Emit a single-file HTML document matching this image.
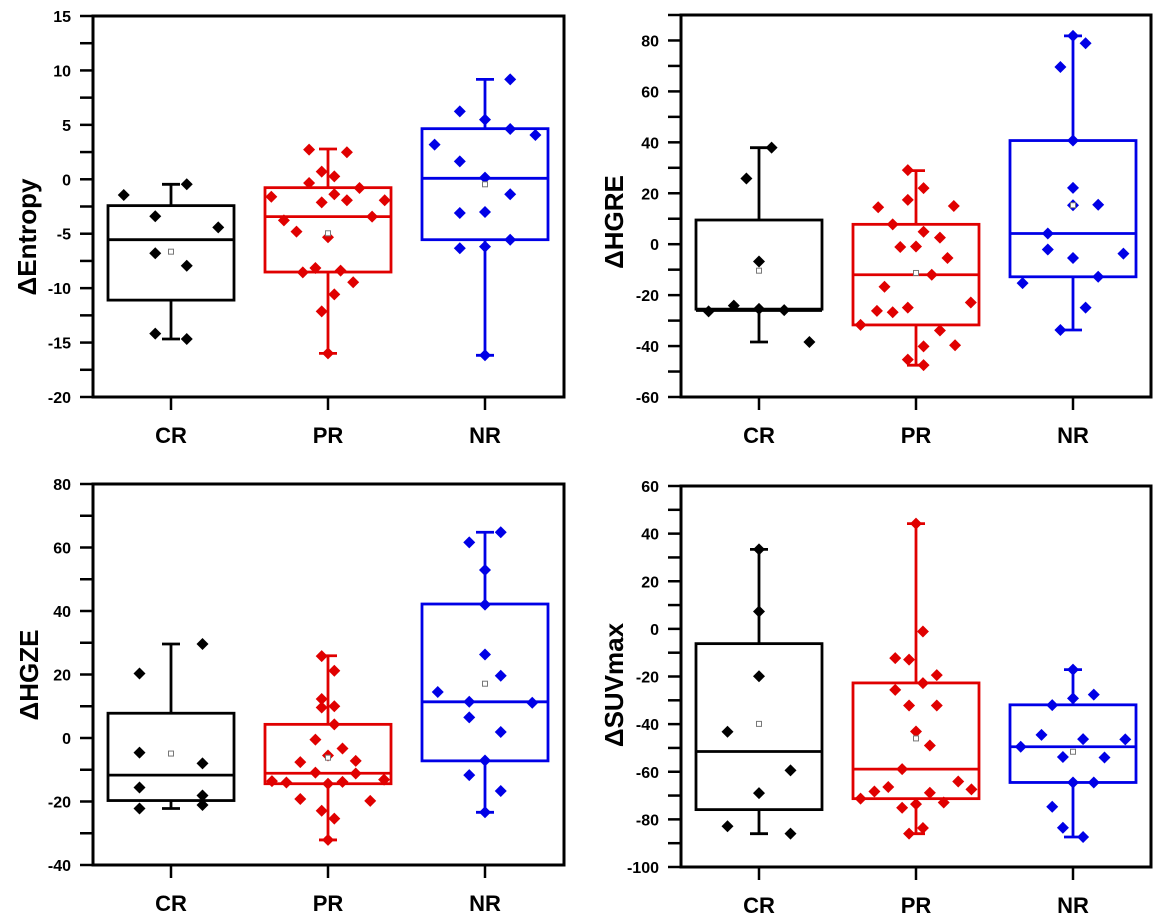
<!DOCTYPE html>
<html><head><meta charset="utf-8"><style>
body{margin:0;background:#fff;}
svg{display:block;font-family:"Liberation Sans",Arial,sans-serif;font-weight:bold;}
</style></head><body>
<svg id="chart" width="1158" height="923" viewBox="0 0 1158 923" xmlns="http://www.w3.org/2000/svg"></svg>
<script>
const categories = ["CR","PR","NR"];
const colors = ["#000000","#e00000","#0000e6"];

// Panel 1: ΔEntropy
const p1Values = [[-1.44,-3.40,-0.46,-4.42,-6.8,-7.94,-14.18,-14.67],
 [2.72,2.48,0.7,0.27,-0.34,-0.8,-1.6,-1.38,-2.12,-1.93,-1.93,-3.43,-3.77,-4.81,-5.33,-8.55,-8.15,-8.39,-9.46,-10.57,-12.13,-15.99],
 [9.18,6.24,5.48,4.62,4.07,3.18,1.65,0.15,-1.38,-3.1,-3.0,-5.55,-6.34,-6.19,-16.17]];
const p1Jitter = [[-7.5,-2.5,2.5,7.5,-2.5,2.5,-2.5,2.5],
 [-3,3,-1,1,-3,5,-9,1,-1,3,9,7,-7,-5,0,-4,-2,2,4,1,-1,0],
 [4,-4,0,4,8,-8,-4,0,4,-4,0,4,-4,0,0]];
const p1Q3 = [-2.42,-0.77,4.65], p1Median = [-5.55,-3.43,0.09], p1Q1 = [-11.1,-8.52,-5.55];
const p1WhiskHi = [-0.46,2.78,9.18], p1WhiskLo = [-14.67,-15.99,-16.17], p1Mean = [-6.65,-4.96,-0.46];

// Panel 2: ΔHGRE
const p2Values = [[37.9,25.8,-6.8,-26.4,-24.1,-25.4,-25.9,-38.4],
 [29.1,22,17.4,14.5,15,7.8,4.9,2.6,-1.1,-0.9,-5.4,-12.0,-16.7,-22.9,-26.2,-26.7,-24.9,-31.7,-33.9,-40.1,-39.7,-45.3,-47.5],
 [81.8,78.9,69.6,40.7,22.1,15.3,15.5,4.2,-2.1,-5.4,-3.7,-12.8,-15.3,-24.9,-33.7]];
const p2Jitter = [[2,-2,0,-8,-4,0,4,8],
 [-1.3,1.2,-1.3,-6,6,-3.7,1.2,3.8,-2.5,0,5,2.5,-5,8.7,-6.2,-3.7,-1.3,-8.8,3.8,1.2,6.2,-1.3,1.2],
 [0,2,-2,0,0,0,4,-4,-4,0,8,4,-8,2,-2]];
const p2Q3 = [9.5,7.8,40.7], p2Median = [-26,-12,4.2], p2Q1 = [-25.5,-31.7,-12.8];
const p2WhiskHi = [37.9,28.9,81.8], p2WhiskLo = [-38.4,-47.5,-33.7], p2Mean = [-10.4,-11.3,15.3];

// Panel 3: ΔHGZE
const p3Values = [[20.3,29.6,-4.6,-8.0,-15.6,-18.1,-21.1,-22.2],
 [25.8,21.2,12.3,9.6,10.0,4.3,-0.5,-3.3,-5.5,-7.6,-7.2,-10.9,-11.2,-13.6,-14.0,-14.4,-13.8,-13.1,-19.2,-19.8,-22.9,-25.4,-32.1],
 [64.8,61.6,52.9,42.0,26.3,19.6,14.5,11.4,11.1,6.5,1.9,-7.1,-11.7,-16.7,-23.4]];
const p3Jitter = [[-5,5,-5,5,-5,5,5,-5],
 [-1,1,-1,-1,1,1,-2,2.3,0,-4.4,4.4,-2,4.4,-8.9,-6.6,0,2.3,8.9,-4.4,6.7,-1,1,0],
 [2.5,-2.5,0,0,0,2.5,-7.5,-2.5,7.5,-2.5,2.5,0,-2.5,2.5,0]];
const p3Q3 = [7.8,4.3,42.2], p3Median = [-11.7,-11.1,11.4], p3Q1 = [-19.7,-14.4,-7.2];
const p3WhiskHi = [29.6,25.9,64.8], p3WhiskLo = [-22.2,-32.1,-23.4], p3Mean = [-4.9,-6.2,17.1];

// Panel 4: ΔSUVmax
const p4Values = [[33.4,7.3,-19.9,-43.2,-59.4,-69,-82.9,-86],
 [44.2,-1.1,-12.3,-12.9,-19.4,-22.8,-25.6,-32.2,-32.2,-43.1,-49.0,-58.9,-64.1,-66.4,-68.3,-68.8,-67.4,-71.3,-72.9,-73.6,-75.1,-83.6,-86.0],
 [-17.1,-27.6,-32.0,-29.2,-44.5,-46.3,-46.4,-49.5,-53.8,-54.0,-64.5,-64.5,-74.7,-83.5,-87.4]];
const p4Jitter = [[0,0,0,-5,5,0,-5,5],
 [0,1.1,-3.3,-1.1,3.3,1.1,-3.3,-1.1,3.3,0,2.2,-2.2,6.7,-4.4,-6.6,2.2,8.8,-8.8,4.4,0,-2.2,1.1,-1.1],
 [0,3.3,-3.3,0,-5,1.6,8.3,-8.3,-1.6,5,0,3.3,-3.3,-1.6,1.6]];
const p4Q3 = [-6.2,-22.7,-31.9], p4Median = [-51.5,-58.9,-49.5], p4Q1 = [-75.9,-71.3,-64.5];
const p4WhiskHi = [33.4,44.2,-17.1], p4WhiskLo = [-86,-86,-87.4], p4Mean = [-39.9,-46.0,-51.6];

const p1Ticks = [15,10,5,0,-5,-10,-15,-20];
const p2Ticks = [80,60,40,20,0,-20,-40,-60];
const p3Ticks = [80,60,40,20,0,-20,-40];
const p4Ticks = [60,40,20,0,-20,-40,-60,-80,-100];

const NS = "http://www.w3.org/2000/svg";
const svg = document.getElementById("chart");
function mk(tag, attrs, parent){
  const e = document.createElementNS(NS, tag);
  for (const k in attrs) e.setAttribute(k, attrs[k]);
  (parent||svg).appendChild(e);
  return e;
}

const panels = [
 {key:"entropy", title:"ΔEntropy", L:93,R:564,T:16,B:397,ymin:-20,ymax:15,minor:2.5,ticks:p1Ticks,vals:p1Values,jit:p1Jitter,q3:p1Q3,med:p1Median,q1:p1Q1,hi:p1WhiskHi,lo:p1WhiskLo,mean:p1Mean,tx:27,ty:237},
 {key:"hgre", title:"ΔHGRE", L:681,R:1151,T:15,B:397,ymin:-60,ymax:90,minor:10,ticks:p2Ticks,vals:p2Values,jit:p2Jitter,q3:p2Q3,med:p2Median,q1:p2Q1,hi:p2WhiskHi,lo:p2WhiskLo,mean:p2Mean,tx:614,ty:222},
 {key:"hgze", title:"ΔHGZE", L:93,R:564,T:484,B:865,ymin:-40,ymax:80,minor:10,ticks:p3Ticks,vals:p3Values,jit:p3Jitter,q3:p3Q3,med:p3Median,q1:p3Q1,hi:p3WhiskHi,lo:p3WhiskLo,mean:p3Mean,tx:29,ty:675},
 {key:"suvmax", title:"ΔSUVmax", L:681,R:1151,T:486,B:867,ymin:-100,ymax:60,minor:10,ticks:p4Ticks,vals:p4Values,jit:p4Jitter,q3:p4Q3,med:p4Median,q1:p4Q1,hi:p4WhiskHi,lo:p4WhiskLo,mean:p4Mean,tx:614,ty:685}
];

panels.forEach(p => {
  const g = mk("g", {});
  
  
  const y = v => p.B - (v - p.ymin) / (p.ymax - p.ymin) * (p.B - p.T);
  const c0 = p.L + 78;
  const x = i => c0 + i * 157;
  const hw = 63;

  for (let v = p.ymin; v <= p.ymax + 1e-9; v += p.minor) {
    const t = mk("line", {x1:p.L-13, x2:p.L, y1:y(v), y2:y(v), stroke:"#000","stroke-width":2.5}, g);
    
    
  }
  p.ticks.forEach(v => {
    const t = mk("text", {x:p.L-22, y:y(v)+6, "text-anchor":"end", "font-size":16, fill:"#000"}, g);
    t.textContent = v;
    
    
  });
  const tt = mk("text", {x:p.tx, y:p.ty, "text-anchor":"middle", "font-size":26, fill:"#000",
    transform:`rotate(-90 ${p.tx} ${p.ty})`, dy:9}, g);
  tt.textContent = p.title;
  
  

  categories.forEach((cat, i) => {
    const col = colors[i];
    const cx = x(i);
    const tk = mk("line", {x1:cx, x2:cx, y1:p.B, y2:p.B+13, stroke:"#000","stroke-width":2.5}, g);
    
    
    const lb = mk("text", {x:cx, y:p.B+46, "text-anchor":"middle", "font-size":22, fill:"#000"}, g);
    lb.textContent = cat;
    
    

    const bg = mk("g", {stroke:col, "stroke-width":2.8, fill:"none"}, g);
    
    
    mk("line", {x1:cx, x2:cx, y1:y(p.hi[i]), y2:y(p.q3[i])}, bg);
    mk("line", {x1:cx, x2:cx, y1:y(p.q1[i]), y2:y(p.lo[i])}, bg);
    mk("line", {x1:cx-9, x2:cx+9, y1:y(p.hi[i]), y2:y(p.hi[i])}, bg);
    mk("line", {x1:cx-9, x2:cx+9, y1:y(p.lo[i]), y2:y(p.lo[i])}, bg);
    mk("rect", {x:cx-hw, y:y(p.q3[i]), width:2*hw, height:y(p.q1[i])-y(p.q3[i])}, bg);
    mk("line", {x1:cx-hw, x2:cx+hw, y1:y(p.med[i]), y2:y(p.med[i])}, bg);

    p.vals[i].forEach((v, k) => {
      const px = cx + p.jit[i][k] * hw / 10, py = y(v);
      const d = mk("polygon", {points:`${px},${py-6} ${px+6},${py} ${px},${py+6} ${px-6},${py}`, fill:col}, g);
      
      
    });
    const m = mk("rect", {x:cx-2.5, y:y(p.mean[i])-2.5, width:5, height:5, fill:"#fff", stroke:"#777", "stroke-width":1}, g);
    
    
  });

  const fr = mk("rect", {x:p.L, y:p.T, width:p.R-p.L, height:p.B-p.T, fill:"none", stroke:"#000", "stroke-width":3}, g);
  
  
});
</script>
</body></html>
